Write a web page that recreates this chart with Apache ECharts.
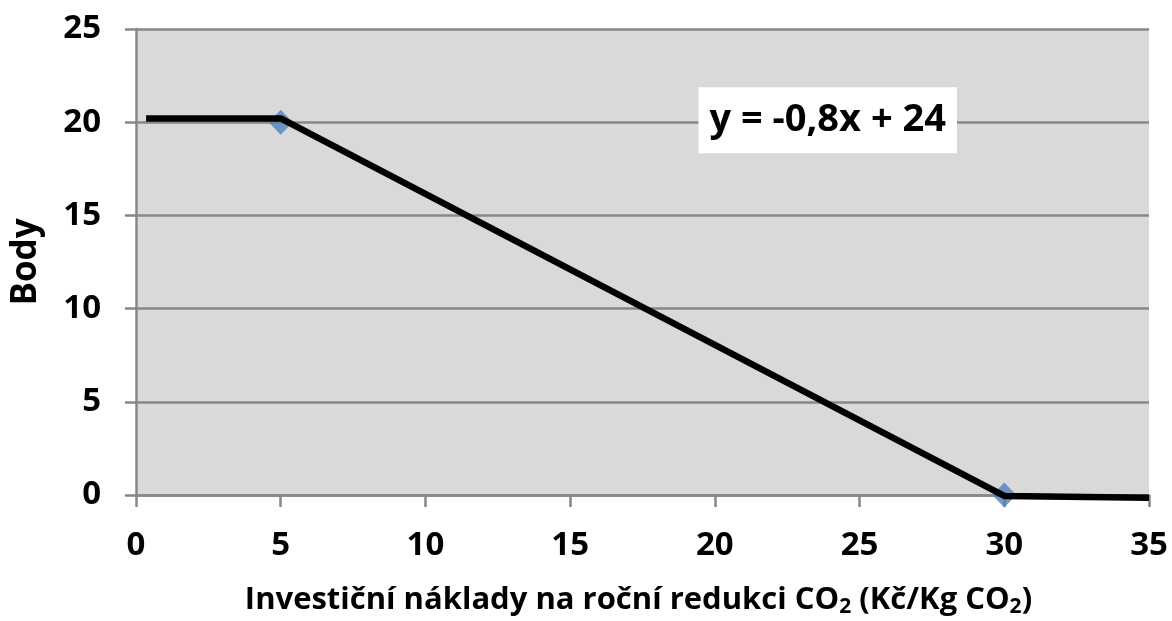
<!DOCTYPE html>
<html><head><meta charset="utf-8">
<script src="https://cdn.jsdelivr.net/npm/echarts@6/dist/echarts.min.js"></script>
<style>html,body{margin:0;padding:0;background:#fff}#c{width:1172px;height:621px}</style>
</head><body><div id="c"></div>
<script>
const xTicks = [0, 5, 10, 15, 20, 25, 30, 35];
const yTicks = [0, 5, 10, 15, 20, 25];
const lineX = [0.35, 5, 30, 35];
const lineY = [20.2, 20.2, -0.05, -0.15];
const pointX = [5, 30];
const pointY = [20, 0];
const equationText = 'y = -0,8x + 24';
const equationAt = [23.9, 20.1];
const xTitle = 'Investiční náklady na roční redukci CO{sub|2} (Kč/Kg CO{sub|2})';
const yTitle = 'Body';

const F = '"Open Sans", sans-serif';
const gray = '#878787';
const chart = echarts.init(document.getElementById('c'));
chart.setOption({
  animation: false,
  grid: { left: 136, right: 23, top: 29, bottom: 126, outerBoundsMode: 'none', containLabel: false,
    show: true, backgroundColor: '#d9d9d9', borderWidth: 0 },
  xAxis: {
    type: 'value', min: xTicks[0], max: xTicks[xTicks.length-1], interval: 5,
    axisLine: { show: true, onZero: false, lineStyle: { color: gray, width: 2.5 } },
    axisTick: { show: true, inside: false, length: 12, lineStyle: { color: gray, width: 2.5 } },
    splitLine: { show: false },
    axisLabel: { color: '#000', fontFamily: F, fontWeight: 'bold', fontSize: 33, margin: 34 },
    name: xTitle, nameLocation: 'middle', nameGap: 88,
    nameTextStyle: { color: '#000', fontFamily: F, fontWeight: 'bold', fontSize: 31, padding: [0, 8, 0, 0],
      rich: { sub: { fontFamily: F, fontWeight: 'bold', fontSize: 21, color: '#000', padding: [14, 0, 0, 0] } } }
  },
  yAxis: {
    type: 'value', min: yTicks[0], max: yTicks[yTicks.length-1], interval: 5,
    axisLine: { show: true, lineStyle: { color: gray, width: 2.5 } },
    axisTick: { show: true, inside: false, length: 11, lineStyle: { color: gray, width: 2.5 } },
    splitLine: { show: true, lineStyle: { color: gray, width: 2.5 } },
    axisLabel: { color: '#000', fontFamily: F, fontWeight: 'bold', fontSize: 33, margin: 35 },
    name: yTitle, nameLocation: 'middle', nameGap: 92, nameRotate: 90,
    nameTextStyle: { color: '#000', fontFamily: F, fontWeight: 'bold', fontSize: 35 }
  },
  series: [
    {
      type: 'line', data: lineX.map((x, i) => [x, lineY[i]]), clip: false,
      showSymbol: false, symbol: 'none',
      lineStyle: { color: '#000', width: 6.5 },
      z: 3,
      markPoint: {
        symbol: 'rect', symbolSize: 1, itemStyle: { color: 'transparent' },
        data: [{ coord: equationAt }],
        label: { show: true, position: 'inside', formatter: equationText, color: '#000',
          fontFamily: F, fontWeight: 'bold', fontSize: 38, lineHeight: 40, backgroundColor: '#fff',
          padding: [13, 11, 13, 11] }
      }
    },
    {
      type: 'scatter', data: pointX.map((x, i) => [x, pointY[i]]), clip: false,
      symbol: 'diamond', symbolSize: [24, 25],
      itemStyle: { color: '#4f81bd' }, z: 2
    }
  ]
});
</script></body></html>
